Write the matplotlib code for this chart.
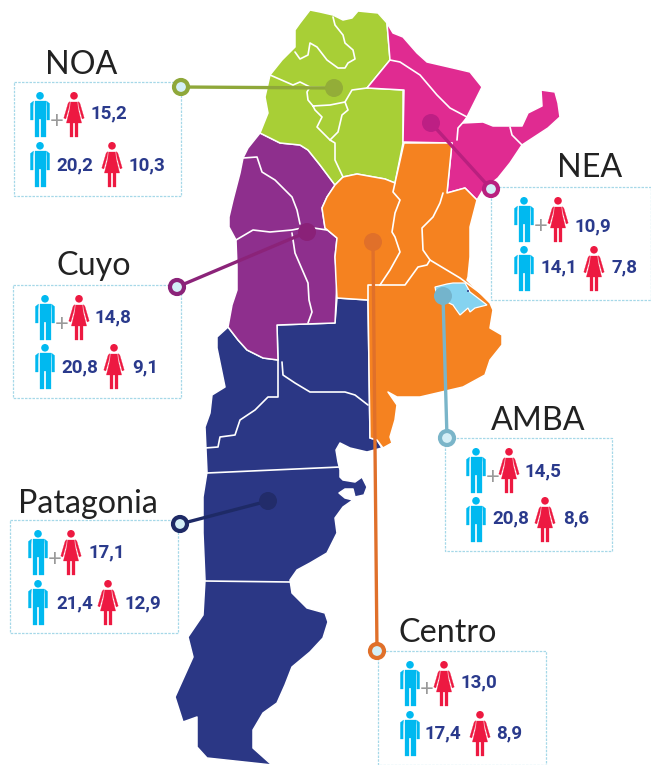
import matplotlib
matplotlib.use("Agg")
import matplotlib.pyplot as plt
from matplotlib.patches import Polygon, Circle, Rectangle

# ---------- data ----------
regions = ["NOA", "NEA", "Cuyo", "AMBA", "Patagonia", "Centro"]
both_sexes = [15.2, 10.9, 14.8, 14.5, 17.1, 13.0]
men = [20.2, 14.1, 20.8, 20.8, 21.4, 17.4]
women = [10.3, 7.8, 9.1, 8.6, 12.9, 8.9]

# ---------- map outlines (pixel space of the picture) ----------
noa_outline = [(310,10),(320,12),(333,15),(343,20),(352,18),(358,11),(378,13),(387,23),(390,60),(367,88),(403,90),
               (403,143),(395,183),(385,179),(357,174),(343,177),(335,185),(320,165),(308,150),(300,145),(280,143),
               (260,133),(268,113),(265,97),(270,75),(282,60),(295,47),(295,30),(300,23)]
noa_lines = [
    [(333,17),(335,25),(343,35),(345,43),(353,50),(355,59),(348,63),(345,68),(338,68),(327,60),(317,47),(310,43),(308,55),(300,59),(295,52)],
    [(270,75),(293,85),(300,82),(310,87),(334,88)],
    [(310,87),(307,92),(308,100),(313,106)],
    [(313,106),(330,105),(345,102),(348,110),(342,115),(338,132),(330,140),(317,127),(322,117),(315,110),(313,106)],
    [(345,102),(352,90),(367,88)],
    [(330,140),(335,143),(335,160),(343,177)],
]
nea_outline = [(387,23),(393,33),(403,37),(417,53),(427,62),(453,68),(470,72),(482,87),(467,117),(463,123),(483,122),
               (493,126),(510,126),(522,126),(528,113),(542,106),(541,90),(555,92),(558,103),(560,117),(548,128),
               (522,145),(510,163),(498,178),(483,190),(477,200),(465,188),(447,193),(452,143),(403,142),(404,90),(367,88),(390,60)]
nea_lines = [
    [(390,60),(400,62),(420,75),(437,95),(450,108),(467,117)],
    [(467,118),(458,128),(457,140)],
    [(510,127),(512,135),(522,145)],
]
centro_outline = [(404,143),(452,143),(447,193),(465,188),(477,200),(470,227),(470,257),(468,277),(467,280),(490,303),
                  (493,310),(490,328),(502,335),(502,345),(490,360),(485,375),(463,387),(420,397),(397,397),(388,392),
                  (397,405),(395,420),(390,437),(392,443),(383,448),(377,440),(370,438),(368,300),(337,298),(336,280),
                  (335,257),(337,238),(325,228),(322,208),(327,197),(335,185),(343,177),(357,174),(385,179),(395,183)]
centro_lines = [
    [(395,183),(393,192),(400,200),(395,213),(392,232),(395,237),(400,252),(390,270),(380,285)],
    [(380,285),(405,285),(418,267),(427,265),(430,260)],
    [(443,193),(440,203),(433,217),(422,228),(423,250),(430,260),(460,278),(487,298)],
    [(380,285),(368,285),(368,300)],
]
cuyo_outline = [(260,133),(280,143),(300,145),(308,150),(320,165),(335,185),(327,197),(322,208),(325,228),(337,238),
                (335,257),(337,280),(335,323),(277,325),(278,360),(263,358),(247,350),(238,340),(228,327),(232,305),
                (237,290),(237,267),(236,240),(229,227),(229,217),(233,200),(240,173),(243,158),(248,148)]
cuyo_lines = [
    [(243,158),(257,157),(262,172),(275,180),(292,197),(297,210),(300,224)],
    [(236,240),(253,230),(270,232),(292,230),(307,227),(327,230)],
    [(292,233),(295,253),(308,283),(309,300),(312,312),(308,323)],
]
patagonia_outline = [(337,298),(368,300),(370,438),(377,440),(382,448),(367,452),(350,448),(340,443),(336,450),(338,462),
                     (340,470),(340,477),(343,480),(355,482),(362,477),(367,487),(364,495),(355,497),(353,489),(345,489),
                     (339,493),(345,498),(353,500),(343,507),(335,518),(337,533),(327,553),(310,563),(297,570),(290,580),
                     (292,593),(307,608),(325,613),(328,622),(323,638),(310,652),(292,667),(285,685),(277,703),(263,713),
                     (253,730),(253,748),(272,765),(207,758),(197,747),(197,717),(183,722),(175,697),(193,657),(188,637),
                     (203,615),(205,580),(203,533),(203,497),(207,472),(205,427),(210,413),(212,395),(225,387),(217,348),
                     (217,337),(228,327),(238,340),(247,350),(263,358),(278,360),(277,325),(335,323)]
patagonia_lines = [
    [(278,360),(278,397),(268,397),(255,410),(240,420),(235,435),(220,437),(218,447),(205,448)],
    [(282,362),(283,375),(295,383),(310,392),(345,392),(355,395),(368,405)],
    [(207,473),(340,467)],
    [(205,581),(290,582)],
]
amba_outline = [(435,287),(447,284),(453,283),(465,283),(470,292),(487,305),(475,308),(470,312),(468,308),(460,315),
                (455,308),(453,305),(437,297)]

# ---------- layout (pixel space) ----------
fills = ["#a8cf36", "#e02b91", "#8e2f8d", "#85d3f0", "#2b3785", "#f58220"]
line_cols = ["#8fa83a", "#b9207f", "#8b2379", "#7ab5c9", "#1e2a66", "#e0702a"]
dot_cols = ["#93ad38", "#bd1f84", "#8a2178", "#74b4cc", "#222c6a", "#e0702a"]
dots = [(334,88),(431,123),(307,232),(443,296),(268,501),(373,242)]
rings = [(181,87),(491,189),(177,287),(447,438),(180,524),(377,651)]
boxes = [(14,82,181,196),(491,187,651,300),(13,285,181,398),(445,438,612,551),(10,520,178,633),(378,651,546,765)]
titles = [(81,65),(590,168),(94,266),(538,421),(88,504),(448,633)]
top_man = [(40,92),(524,197),(45,295),(476,448),(38,530),(410,661)]
top_woman_x = [74,558,79,509,71,444]
bottom_man_y = [142,246,344,497,580,711]
bottom_woman_x = [112,594,114,545,108,480]
text_both = [(90,113),(575,226),(95,317),(525,471),(88,552),(460,682)]
text_men = [(56,165),(541,267),(61,367),(492,518),(56,603),(425,733)]
text_women = [(128,165),(612,267),(132,367),(563,518),(125,603),(496,733)]

man_shapes = [
    [(-5.5,9),(5.5,9),(5.5,27),(5.5,44.5),(0.9,44.5),(0.9,27),(-0.9,27),(-0.9,44.5),(-5.5,44.5)],
    [(6.4,9),(9.6,11.5),(9.6,28),(6.9,28),(6.9,14)],
    [(-6.4,9),(-9.6,11.5),(-9.6,28),(-6.9,28),(-6.9,14)],
]
woman_shapes = [
    [(-3.4,10),(3.4,10),(4.2,17),(7.6,31),(-7.6,31),(-4.2,17)],
    [(4,9.6),(5.8,11),(10.2,26),(8.2,27),(5,15.5)],
    [(-4,9.6),(-5.8,11),(-10.2,26),(-8.2,27),(-5,15.5)],
    [(1,30),(4,30),(4,44.5),(1,44.5)],
    [(-1,30),(-4,30),(-4,44.5),(-1,44.5)],
]

MAN, WOMAN, TXT, BOX = "#00b9f0", "#ed1941", "#2a3a8c", "#a6d8e8"

fig = plt.figure(figsize=(6.51, 7.65), dpi=100, facecolor="white")
ax = fig.add_axes([0, 0, 1, 1])
ax.set_xlim(0, 651)
ax.set_ylim(765, 0)
ax.axis("off")


def region(outline, color, lines=(), z=2):
    ax.add_patch(Polygon(outline, closed=True, fc=color, ec="white", lw=1.1, joinstyle="round", zorder=z))
    for ln in lines:
        ax.plot(*zip(*ln), color="white", lw=1.2, solid_joinstyle="round", solid_capstyle="round", zorder=z + 1)


region(patagonia_outline, fills[4], patagonia_lines)
region(cuyo_outline, fills[2], cuyo_lines)
region(noa_outline, fills[0], noa_lines)
region(nea_outline, fills[1], nea_lines)
region(centro_outline, fills[5], centro_lines)
ax.add_patch(Polygon(amba_outline, closed=True, fc=fills[3], ec="white", lw=0.9, zorder=4))
ax.add_patch(Circle((468, 291), 1.0, fc=fills[4], ec="none", zorder=4))


def person(shapes, color, cx, top):
    ax.add_patch(Circle((cx, top + 3.8), 3.8, fc=color, ec="none", zorder=7))
    for shape in shapes:
        ax.add_patch(Polygon([(cx + x, top + y) for x, y in shape], closed=True, fc=color, ec=color, lw=0.2,
                             joinstyle="round", zorder=7))


def fmt(v):
    return f"{v:.1f}".replace(".", ",")


for i, name in enumerate(regions):
    x0, y0, x1, y1 = boxes[i]
    ax.add_patch(Rectangle((x0, y0), x1 - x0, y1 - y0, fc="none", ec=BOX, lw=0.9, ls=(0, (2, 1)), zorder=5))
    ax.plot([dots[i][0], rings[i][0]], [dots[i][1], rings[i][1]], color=line_cols[i], lw=2.4, zorder=6)
    ax.add_patch(Circle(dots[i], 9, fc=dot_cols[i], ec="none", zorder=6))
    ax.add_patch(Circle(rings[i], 7, fc="#d4eff7", ec=line_cols[i], lw=3, zorder=8))
    ax.text(*titles[i], name, family="Lato", fontsize=23.2, color="#222222", ha="center", va="center", zorder=9)

    mx, my = top_man[i]
    person(man_shapes, MAN, mx, my)
    person(woman_shapes, WOMAN, top_woman_x[i], my)
    ax.text((mx + top_woman_x[i]) / 2, my + 29, "+", family="Lato", fontsize=17, color="#9a9a9a",
            ha="center", va="center", zorder=7)
    person(man_shapes, MAN, mx, bottom_man_y[i])
    person(woman_shapes, WOMAN, bottom_woman_x[i], bottom_man_y[i])
    for (tx, ty), v in zip((text_both[i], text_men[i], text_women[i]), (both_sexes[i], men[i], women[i])):
        ax.text(tx, ty, fmt(v), family="Roboto", fontweight="bold", fontsize=13.5, color=TXT,
                ha="left", va="center", zorder=9)

fig.savefig("out.png", dpi=100, facecolor="white")
